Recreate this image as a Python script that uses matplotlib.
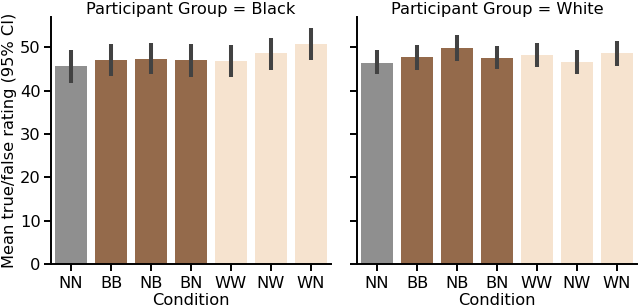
import matplotlib
matplotlib.use("Agg")
import matplotlib.pyplot as plt

conditions = ["NN", "BB", "NB", "BN", "WW", "NW", "WN"]
groups = ["Black", "White"]
means = {
    "Black": [45.7, 47.1, 47.2, 47.0, 46.8, 48.6, 50.8],
    "White": [46.5, 47.7, 49.9, 47.5, 48.2, 46.6, 48.7],
}
ci_low = {
    "Black": [41.8, 43.4, 43.8, 43.2, 43.2, 44.7, 47.1],
    "White": [43.8, 44.7, 46.9, 44.9, 45.4, 43.8, 45.7],
}
ci_high = {
    "Black": [49.5, 50.8, 50.9, 50.8, 50.5, 52.1, 54.4],
    "White": [49.4, 50.6, 52.8, 50.3, 50.9, 49.5, 51.5],
}
palette = {"NN": "#8f8f8f", "BB": "#946a4b", "NB": "#946a4b", "BN": "#946a4b",
           "WW": "#f6e3cf", "NW": "#f6e3cf", "WN": "#f6e3cf"}

fs = 11.7
fig = plt.figure(figsize=(6.4, 3.08), dpi=100)
ax1 = fig.add_axes([51/640, 44/308, 280/640, 247/308])
ax2 = fig.add_axes([357/640, 44/308, 280/640, 247/308], sharey=ax1)

for ax, g in zip([ax1, ax2], groups):
    x = list(range(len(conditions)))
    ax.bar(x, means[g], width=0.8, color=[palette[c] for c in conditions], zorder=1)
    for i in x:
        ax.plot([i, i], [ci_low[g][i], ci_high[g][i]], color="#424242", lw=2.9,
                solid_capstyle="butt", zorder=2)
    ax.set_xticks(x)
    ax.set_xticklabels(conditions)
    ax.set_xlim(-0.5, len(conditions) - 0.5)
    ax.set_ylim(0, 57)
    ax.set_yticks([0, 10, 20, 30, 40, 50])
    ax.set_title(f"Participant Group = {g}", fontsize=fs, pad=1.5)
    ax.set_xlabel("Condition", fontsize=fs, labelpad=1)
    for s in ["top", "right"]:
        ax.spines[s].set_visible(False)
    for s in ["left", "bottom"]:
        ax.spines[s].set_linewidth(1.4)
    ax.tick_params(width=1.4, length=5, labelsize=fs)
    ax.tick_params(axis="x", pad=4)
    ax.tick_params(axis="y", pad=2.5)

ax1.set_ylabel("Mean true/false rating (95% CI)", fontsize=fs, labelpad=2)
plt.setp(ax2.get_yticklabels(), visible=False)

fig.savefig("out.png", dpi=100)
